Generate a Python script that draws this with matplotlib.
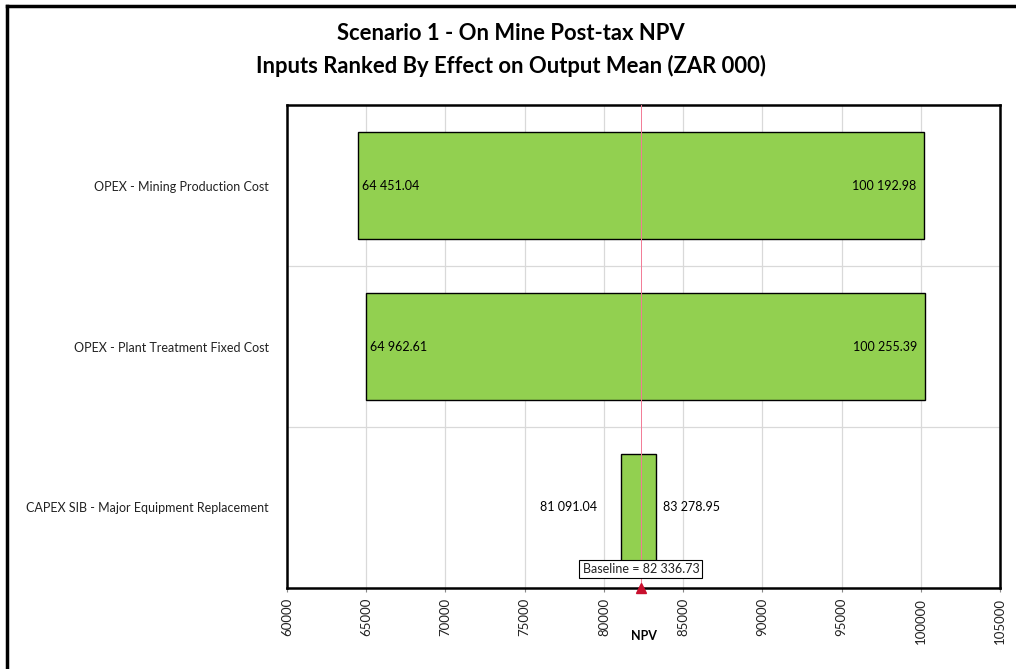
import numpy as np
import matplotlib.pyplot as plt
from matplotlib.lines import Line2D

plt.rcParams['font.family'] = ['Lato', 'DejaVu Sans']

inputs = ["OPEX - Mining Production Cost",
          "OPEX - Plant Treatment Fixed Cost",
          "CAPEX SIB - Major Equipment Replacement"]
low_vals = [64451.04, 64962.61, 81091.04]
high_vals = [100192.98, 100255.39, 83278.95]
baseline = 82336.73
xticks = np.arange(60000, 105001, 5000)


def fmt(v):
    return f"{v:,.2f}".replace(",", " ")


fig = plt.figure(figsize=(10.16, 6.69), dpi=100)
ax = fig.add_axes([0.2825, 0.1211, 0.7018, 0.7219])

ypos = np.arange(len(inputs))
ax.barh(ypos, np.array(high_vals) - np.array(low_vals), left=low_vals, height=0.665,
        color="#92D050", edgecolor="black", linewidth=1.0, zorder=3)

for y, lo, hi in zip(ypos, low_vals, high_vals):
    span = hi - lo
    if span > 10000:
        ax.text(lo + 300, y, fmt(lo), ha="left", va="center", fontsize=9, zorder=4)
        ax.text(hi - 500, y, fmt(hi), ha="right", va="center", fontsize=9, zorder=4)
    else:
        ax.text(lo - 1500, y, fmt(lo), ha="right", va="center", fontsize=9, zorder=4)
        ax.text(hi + 450, y, fmt(hi), ha="left", va="center", fontsize=9, zorder=4)

ax.set_xlim(60000, 105000)
ax.set_ylim(2.5, -0.5)
ax.set_xticks(xticks)
ax.set_xticklabels([str(t) for t in xticks], rotation=90, fontsize=9.5, color="#222222")
ax.set_yticks(ypos)
ax.set_yticklabels(inputs, fontsize=9, color="#222222")
ax.tick_params(axis="y", length=0, pad=13)
ax.tick_params(axis="x", length=3, width=0.8, color="#888888", pad=4)

ax.grid(axis="x", color="#D9D9D9", linewidth=0.9, zorder=0)
for sep in [0.5, 1.5]:
    ax.axhline(sep, color="#D9D9D9", linewidth=0.9, zorder=0)
for s in ax.spines.values():
    s.set_linewidth(1.8)
    s.set_color("black")

# baseline marker
ax.axvline(baseline, color="#F27A95", linewidth=0.7, zorder=5)
ax.plot([baseline], [2.5], marker="^", color="#C8102E", markersize=7,
        clip_on=False, zorder=6)
ax.text(baseline, 2.38, f"Baseline = {fmt(baseline)}", ha="center", va="center",
        fontsize=9, color="#222222", zorder=7,
        bbox=dict(boxstyle="square,pad=0.25", facecolor="white", edgecolor="black", linewidth=0.8))

ax.set_xlabel("NPV", fontsize=9, fontweight="bold")
ax.xaxis.set_label_coords(0.5, -0.087)

fig.text(0.503, 0.950, "Scenario 1 - On Mine Post-tax NPV", ha="center", va="center",
         fontsize=15.8, fontweight="bold")
fig.text(0.503, 0.902, "Inputs Ranked By Effect on Output Mean (ZAR 000)", ha="center",
         va="center", fontsize=15.8, fontweight="bold")

# outer frame (top and left edges)
fig.add_artist(Line2D([0.0069, 1.0], [0.991, 0.991], color="black", linewidth=2.5,
                      transform=fig.transFigure))
fig.add_artist(Line2D([0.0069, 0.0069], [0.0, 0.991], color="black", linewidth=2.5,
                      transform=fig.transFigure))

fig.savefig("out.png", dpi=100)
